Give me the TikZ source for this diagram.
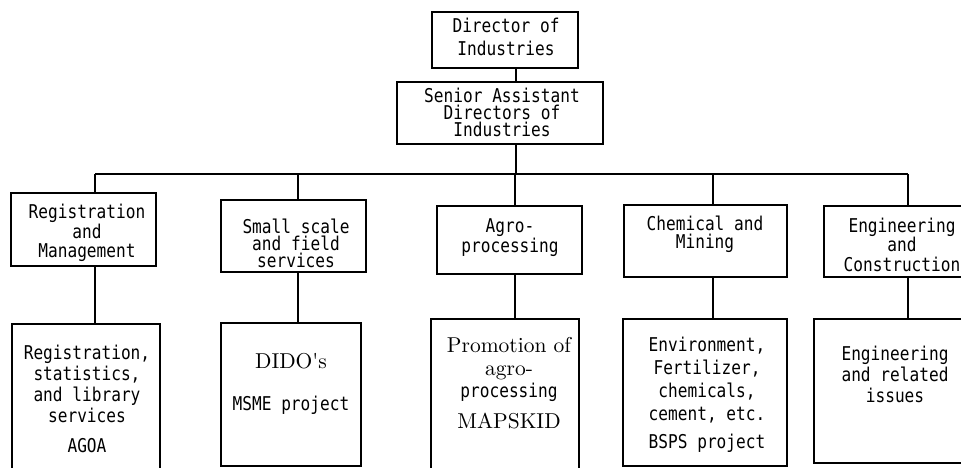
\documentclass[tikz,border=0pt]{standalone}
\usepackage{fontspec}
\newfontfamily\goth[FakeStretch=0.85]{DejaVu Sans Mono}
\newfontfamily\serf{lmroman10-regular}[Extension=.otf]
\newcommand{\mf}[1]{\goth\fontsize{19}{#1}\selectfont}
\newcommand{\serfont}[1]{\serf\fontsize{21.5}{#1}\selectfont}
\tikzset{
  box/.style={draw, line width=1.2pt, rectangle, inner sep=0pt, outer sep=0pt, anchor=north west},
  txt/.style={inner sep=0pt, outer sep=0pt, anchor=base, align=center},
  conn/.style={line width=1.2pt}
}
\begin{document}
\begin{tikzpicture}[x=1pt,y=-1pt]
\useasboundingbox (0,0) rectangle (961,468);
\clip (0,0) rectangle (961,468);
% boxes
\node[box, minimum width=146pt, minimum height=56pt] (d) at (432,12) {};
\node[box, minimum width=206pt, minimum height=62pt] (s) at (397,82) {};
\node[box, minimum width=145pt, minimum height=73pt] (r1) at (11,193) {};
\node[box, minimum width=145pt, minimum height=72pt] (r2) at (221,200) {};
\node[box, minimum width=145pt, minimum height=68pt] (r3) at (437,206) {};
\node[box, minimum width=163pt, minimum height=72pt] (r4) at (624,205) {};
\node[box, minimum width=156pt, minimum height=71pt] (r5) at (824,206) {};
\node[box, minimum width=148pt, minimum height=160pt] (l1) at (12,324) {};
\node[box, minimum width=140pt, minimum height=143pt] (l2) at (221,323) {};
\node[box, minimum width=148pt, minimum height=165pt] (l3) at (431,319) {};
\node[box, minimum width=164pt, minimum height=147pt] (l4) at (623,319) {};
\node[box, minimum width=162pt, minimum height=144pt] (l5) at (814,319) {};
% bus coordinates
\coordinate (c0) at (516,174);
\coordinate (b1) at (95,174);
\coordinate (b2) at (298,174);
\coordinate (b3) at (515,174);
\coordinate (b4) at (713,174);
\coordinate (b5) at (908,174);
% connectors
\draw[conn] (d.south -| c0) -- (s.north -| c0);
\draw[conn] (s.south -| c0) -- (c0);
\draw[conn] (b1) -- (b5);
\foreach \i in {1,...,5}{
  \draw[conn] (b\i) -- (b\i |- r\i.north);
  \draw[conn] (b\i |- r\i.south) -- (b\i |- l\i.north);
}
% texts (anchor base = baseline of the last line)
\node[txt, font=\mf{23}] (td) at (506,56) {Director of\\Industries};
\node[txt, font=\mf{17.5}] (ts) at (502,137) {Senior Assistant\\Directors of\\Industries};
\node[txt, font=\mf{18.5}] (tr1) at (87,257) {Registration\\and\\Management};
\node[txt, font=\mf{17}] (tr2) at (296,267) {Small scale\\and field\\services};
\node[txt, font=\mf{20}] (tr3) at (510,252) {Agro-\\processing};
\node[txt, font=\mf{18}] (tr4) at (705,248) {Chemical and\\Mining};
\node[txt, font=\mf{19.5}] (tr5) at (902,271) {Engineering\\and\\Construction};
\node[txt, font=\mf{20.7}] (tl1) at (87,422) {Registration,\\statistics,\\and library\\services};
\node[txt, font=\mf{20}] (tl1b) at (87,452) {AGOA};
\node[txt, font=\serfont{24}] (tl2) at (291,368) {DIDO's};
\node[txt, font=\mf{20}] (tl2b) at (291,410) {MSME project};
\node[txt, font=\serfont{23}] (tl3) at (509,375) {Promotion of\\agro-};
\node[txt, font=\mf{20}] (tl3b) at (509,397) {processing};
\node[txt, font=\serfont{24}] (tl3c) at (509,428) {MAPSKID};
\node[txt, font=\mf{22.7}] (tl4) at (707,420) {Environment,\\Fertilizer,\\chemicals,\\cement, etc.};
\node[txt, font=\mf{20}] (tl4b) at (707,448) {BSPS project};
\node[txt, font=\mf{21}] (tl5) at (895,402) {Engineering\\and related\\issues};
\end{tikzpicture}
\end{document}
